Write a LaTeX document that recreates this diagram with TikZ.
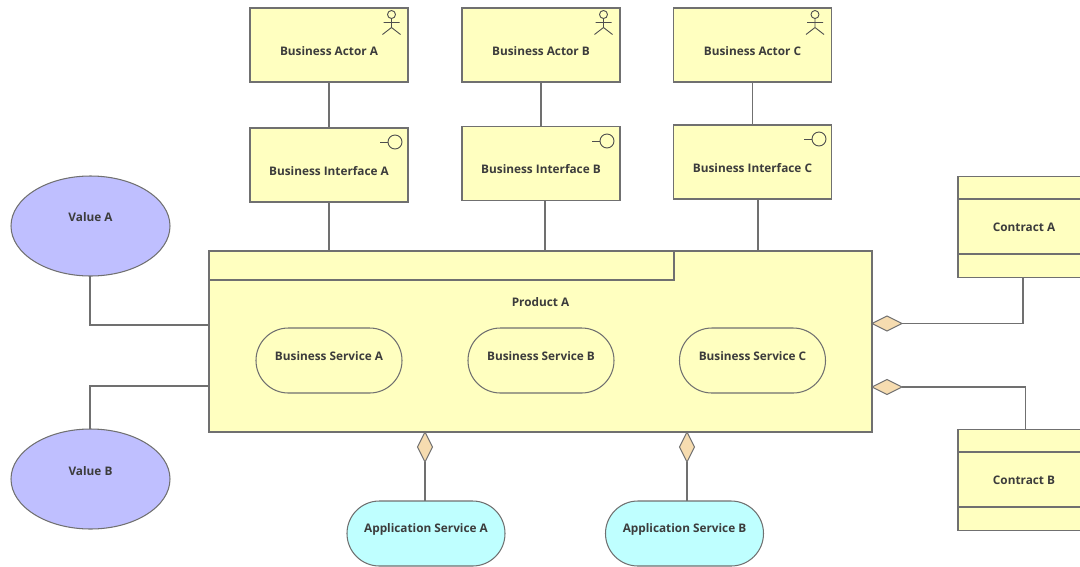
\documentclass[tikz,border=0pt]{standalone}
\usepackage{fontspec}
\setmainfont{Open Sans}
\usetikzlibrary{shapes.geometric}
\definecolor{lnk}{HTML}{707070}
\definecolor{yel}{HTML}{FFFFC0}
\definecolor{vio}{HTML}{BFBFFF}
\definecolor{cya}{HTML}{BFFFFF}
\definecolor{dia}{HTML}{F6DCB0}
\definecolor{txt}{HTML}{3C3C3C}
\tikzset{
  x=1pt,y=-1pt,
  base/.style={draw=lnk,line width=1.05pt,inner sep=0pt,outer sep=0pt,text=txt,font=\fontsize{11.8}{14}\selectfont\bfseries},
  elem/.style={base,fill=yel,rectangle,minimum width=158pt,minimum height=74pt,text height=20pt,text depth=0pt},
  contract/.style={base,fill=yel,rectangle,minimum width=132pt,minimum height=101pt,text height=9pt,text depth=0pt},
  prod/.style={base,fill=yel,rectangle,minimum width=663pt,minimum height=181pt,text height=9pt,text depth=80pt},
  bsvc/.style={base,fill=yel,rectangle,rounded corners=32.4pt,minimum width=146pt,minimum height=65pt,text height=9pt,text depth=10pt},
  asvc/.style={base,fill=cya,rectangle,rounded corners=32.4pt,minimum width=158pt,minimum height=65pt,text height=9pt,text depth=11pt},
  val/.style={base,fill=vio,ellipse,minimum width=159pt,minimum height=100pt,text height=9pt},
  link/.style={draw=lnk,line width=1.05pt},
  icon/.style={draw=lnk!70!black,line width=0.9pt},
  dh/.style={base,diamond,fill=dia,minimum width=30pt,minimum height=15pt,aspect=2},
  dv/.style={base,diamond,fill=dia,minimum width=15pt,minimum height=30pt,aspect=0.5},
}
\newcommand{\actoricon}[2]{%
  \draw[icon] (#1,#2) circle (4pt);
  \draw[icon] (#1,#2+4) -- (#1,#2+13) (#1-8,#2+8) -- (#1+8,#2+8)
    (#1-9,#2+20) -- (#1,#2+13) -- (#1+9,#2+20);}
\newcommand{\ificon}[2]{%
  \draw[icon] (#1,#2) circle (7pt);
  \draw[icon] (#1-15,#2) -- (#1-7,#2);}
\begin{document}
\begin{tikzpicture}
\useasboundingbox (0,0) rectangle (1080,566);
\clip (0,0) rectangle (1080,566);
% nodes
\node[elem] (actA) at (329,45) {Business Actor A};
\node[elem] (actB) at (541,45) {Business Actor B};
\node[elem] (actC) at (752.5,45) {Business Actor C};
\node[elem] (ifA) at (329,165) {Business Interface A};
\node[elem] (ifB) at (541,163.5) {Business Interface B};
\node[elem] (ifC) at (752.5,162) {Business Interface C};
\node[prod] (prod) at (540.5,341.5) {Product A};
\draw[link] (prod.west |- 0,280) -- (674,280) -- (674,251);
\node[bsvc] (svcA) at (329,360.5) {Business Service A};
\node[bsvc] (svcB) at (541,360.5) {Business Service B};
\node[bsvc] (svcC) at (752.5,360.5) {Business Service C};
\node[val,text depth=19pt] (valA) at (90.5,226) {Value A};
\node[val,text depth=16pt] (valB) at (90.5,479) {Value B};
\node[contract] (conA) at (1024,227) {Contract A};
\node[contract] (conB) at (1024,480) {Contract B};
\draw[link] (conA.west |- 0,199) -- (1090,199) (conA.west |- 0,254) -- (1090,254);
\draw[link] (conB.west |- 0,452) -- (1090,452) (conB.west |- 0,507) -- (1090,507);
\node[asvc] (appA) at (426,533.5) {Application Service A};
\node[asvc] (appB) at (684.5,533.5) {Application Service B};
% diamonds
\node[dh] (dC1) at (887,323.5) {};
\node[dh] (dC2) at (887,387) {};
\node[dv] (dA1) at (425,447) {};
\node[dv] (dA2) at (687,447) {};
% connectors
\draw[link] (actA) -- (ifA);
\draw[link] (actB) -- (ifB);
\draw[link] (actC) -- (ifC);
\draw[link] (ifA.south) -- (ifA.south |- prod.north);
\draw[link] (ifB.south -| 545,0) -- (prod.north -| 545,0);
\draw[link] (ifC.south -| 758,0) -- (prod.north -| 758,0);
\draw[link] (valA.south -| 90,0) -- (90,325) -- (prod.west |- 0,325);
\draw[link] (valB.north -| 90,0) -- (90,386) -- (prod.west |- 0,386);
\draw[link] (dC1.east) -- (1023,323.5) -- (conA.south -| 1023,0);
\draw[link] (dC2.east) -- (1025.5,387) -- (conB.north -| 1025.5,0);
\draw[link] (dA1.south) -- (dA1.south |- appA.north);
\draw[link] (dA2.south) -- (dA2.south |- appB.north);
% icons
\actoricon{391.5}{14.5}
\actoricon{603.5}{14.5}
\actoricon{815}{14.5}
\ificon{395}{142}
\ificon{607}{141}
\ificon{819}{139}
\end{tikzpicture}
\end{document}
